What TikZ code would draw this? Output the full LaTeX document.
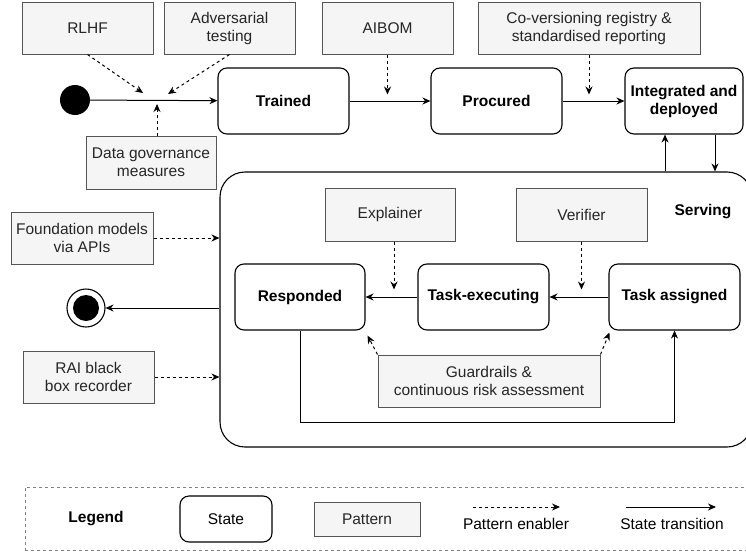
\documentclass[tikz,border=0pt]{standalone}
\usepackage{fontspec}
\setmainfont{Liberation Sans}
\usetikzlibrary{arrows.meta,calc,positioning}
\definecolor{patfill}{HTML}{F5F5F5}
\definecolor{patline}{HTML}{555555}
\newcommand\dfont{\fontsize{15.5}{18}\selectfont}
\tikzset{
  statebox/.style={draw,rounded corners=9pt,line width=1.1pt,minimum width=131pt,minimum height=66pt,align=center,font=\dfont\bfseries},
  patbox/.style={draw=patline,fill=patfill,line width=1pt,minimum width=131pt,minimum height=52pt,align=center,text=black!85},
  enabler/.style={dashed,line width=1pt,-{Stealth[length=8pt,width=7pt]}},
  trans/.style={line width=1pt,-{Stealth[length=8pt,width=7pt]}},
}

\begin{document}
\begin{tikzpicture}[x=1pt,y=-1pt,font=\dfont]
  \useasboundingbox (0,0) rectangle (746,554);
  \clip (0,0) rectangle (746,554);

  % patterns
  \node[patbox] (rlhf) at (87.5,28) {RLHF};
  \node[patbox] (advtest) at (229.5,28) {Adversarial\\testing};
  \node[patbox] (aibom) at (387.5,28) {AIBOM};
  \node[patbox,minimum width=222pt] (coversion) at (589,28) {Co-versioning registry \&\\standardised reporting};
  \node[patbox,minimum width=130pt,minimum height=53pt] (datagov) at (151,162.5) {Data governance\\measures};
  \node[patbox,minimum width=142pt] (foundation) at (82,238) {Foundation models\\via APIs};
  \node[patbox] (blackbox) at (88.5,377) {RAI black\\box recorder};

  % states
  \node[circle,fill=black,minimum size=30pt,inner sep=0pt] (start) at (75,100) {};
  \node[statebox] (trained) at (283.5,101) {Trained};
  \node[statebox] (procured) at (496.5,101) {Procured};
  \node[statebox,minimum width=118pt] (integrated) at (684,101) {Integrated and\\deployed};
  \node[draw,rounded corners=25pt,line width=1.1pt,minimum width=532pt,minimum height=275pt] (serving) at (486,309.5) {};
  \node[font=\dfont\bfseries] (servlabel) at (703,212) {Serving};
  \node[circle,draw,line width=1.1pt,minimum size=38pt,inner sep=0pt] (final) at (86,308) {};
  \fill (final.center) circle (13pt);

  % inside serving
  \node[patbox,minimum width=130pt,minimum height=53pt] (explainer) at (390,214.5) {Explainer};
  \node[patbox,minimum height=53pt] (verifier) at (581.5,214.5) {Verifier};
  \node[statebox,minimum width=130pt] (responded) at (300,297) {Responded};
  \node[statebox] (taskexec) at (483.5,297) {Task-executing};
  \node[statebox] (taskassigned) at (674.5,297) {Task assigned};
  \node[patbox,minimum width=222pt] (guard) at (489,381) {Guardrails \&\\continuous risk assessment};

  % transitions
  \coordinate (merge) at (157,100);
  \coordinate (down) at ($(integrated.south)+(31,0)$);
  \coordinate (up) at ($(integrated.south)+(-19,0)$);
  \draw[trans] (start) -- (trained);
  \draw[trans] (trained) -- (procured);
  \draw[trans] (procured) -- (integrated);
  \draw[trans] (down) -- (down |- serving.north);
  \draw[trans] (up |- serving.north) -- (up);
  \draw[trans] (final -| serving.west) -- (final);
  \draw[trans] (taskassigned) -- (taskexec);
  \draw[trans] (taskexec) -- (responded);
  \draw[trans] (responded.south) -- ++(0,92) -| (taskassigned.south);

  % pattern enablers
  \draw[enabler] (rlhf.south) -- ($(merge)+(-14,-7)$);
  \draw[enabler] (advtest.south) -- ($(merge)+(11,-6)$);
  \draw[enabler] (datagov.north -| merge) -- ($(merge)+(0,4)$);
  \foreach \p in {aibom,coversion}
    \draw[enabler] (\p.south) -- ++(0,40);
  \draw[enabler] ($(explainer.south)+(4,0)$) -- ++(0,48);
  \draw[enabler] (verifier.south) -- ++(0,48);
  \draw[enabler] (foundation.east) -- (foundation.east -| serving.west);
  \draw[enabler] (blackbox.east) -- (blackbox.east -| serving.west);
  \draw[enabler] (guard.north west) -- ($(responded.south east)+(2,5)$);
  \draw[enabler] (guard.north east) -- ($(taskassigned.south west)+(1,2)$);

  % legend
  \node[draw=gray,dashed,minimum width=727pt,minimum height=63pt] (legendbox) at (388.5,518.5) {};
  \node[font=\dfont\bfseries] (legendtitle) at (96,519) {Legend};
  \node[statebox,font=\dfont,minimum width=92pt,minimum height=46pt] (legstate) at (226,519) {State};
  \node[patbox,minimum width=106pt,minimum height=34pt] (legpattern) at (367,519) {Pattern};
  \node (legenabler) at (516,524) {Pattern enabler};
  \node (legtrans) at (672,524) {State transition};
  \draw[enabler] (legenabler.center) ++(-43,-17) -- ++(87,0);
  \draw[trans] (legtrans.center) ++(-46,-17) -- ++(90,0);
\end{tikzpicture}
\end{document}
